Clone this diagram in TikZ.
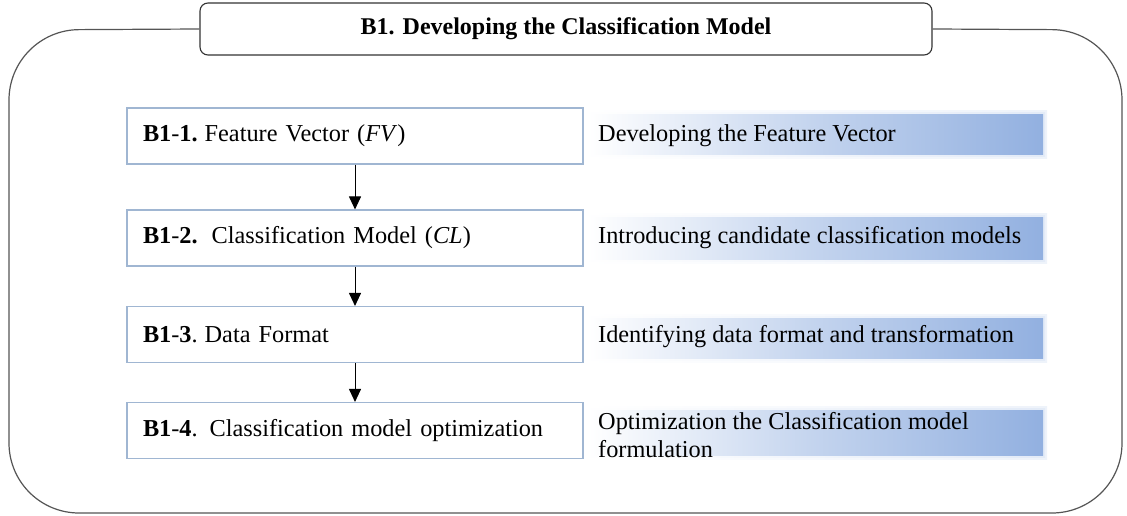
\documentclass[tikz,border=0pt]{standalone}
\usepackage{fontspec}
\setmainfont{Liberation Serif}
\usetikzlibrary{arrows.meta}
\definecolor{framegray}{RGB}{85,85,85}
\definecolor{boxedge}{RGB}{160,182,210}
\definecolor{bandblue}{RGB}{146,176,224}
\tikzset{
  stepbox/.style={draw=boxedge, line width=1.1pt, fill=white,
    minimum width=456pt, minimum height=56pt, text width=424pt,
    inner xsep=16pt, align=left, font=\fontsize{24.3}{28}\selectfont},
  bandbox/.style={left color=white, right color=bandblue,
    middle color=bandblue!55, draw=none,
    minimum width=455pt, inner sep=0pt},
  bandhalo/.style={left color=white, right color=bandblue!45, draw=none,
    inner sep=0pt, opacity=0.35},
  bandtext/.style={anchor=west, align=left, inner sep=0pt,
    font=\fontsize{24.3}{28}\selectfont},
  flow/.style={-{Triangle[width=12pt,length=13pt]}, line width=1pt, black}
}
\begin{document}
\begin{tikzpicture}[x=1pt,y=-1pt]
  \useasboundingbox (0,0) rectangle (1127,516);

  % title tab
  \node[draw=black!80, line width=1.1pt, rounded corners=8pt, fill=white,
        minimum width=732pt, minimum height=52pt,
        font=\bfseries\fontsize{24}{28}\selectfont] (title) at (566,29)
        {B1. Developing the Classification Model};

  % outer frame hanging from the title tab
  \draw[framegray, line width=1.2pt, rounded corners=70pt]
    (title.west) -- (9,30) -- (9,513) -- (1122,513) -- (1122,30) -- (title.east);

  % highlight bands behind the descriptions
  \foreach \n/\yc/\h in {1/135/40, 2/238/42, 3/338/40, 4/432.5/45}{
    \node[bandhalo, minimum width=463pt, minimum height=\h pt+8pt] at (815.5,\yc) {};
    \node[bandhalo, minimum width=459pt, minimum height=\h pt+4pt] at (815.5,\yc) {};
    \node[bandbox, minimum height=\h pt] (band\n) at (815.5,\yc) {};
  }

  % descriptions
  \node[bandtext] (d1) at (598,136) {Developing the Feature Vector};
  \node[bandtext] (d2) at (598,238) {Introducing candidate classification models};
  \node[bandtext] (d3) at (598,337) {Identifying data format and transformation};
  \node[bandtext] (d4) at (598,435) {Optimization the Classification model\\formulation};

  % process steps
  \node[stepbox] (s1) at (355,136)
    {\textbf{B1}-\textbf{1.}\hspace{7pt}Feature Vector (\textit{FV})};
  \node[stepbox] (s2) at (355,238)
    {\textbf{B1}-\textbf{2.}\hspace{14pt}Classification Model (\textit{CL})};
  \node[stepbox] (s3) at (355,334.5)
    {\textbf{B1}-\textbf{3}.\hspace{7pt}Data Format};
  \node[stepbox] (s4) at (355,430.5)
    {\textbf{B1}-\textbf{4}.\hspace{12pt}Classification model optimization};

  \draw[flow] (s1.south) -- (s2.north);
  \draw[flow] (s2.south) -- (s3.north);
  \draw[flow] (s3.south) -- (s4.north);
\end{tikzpicture}
\end{document}
